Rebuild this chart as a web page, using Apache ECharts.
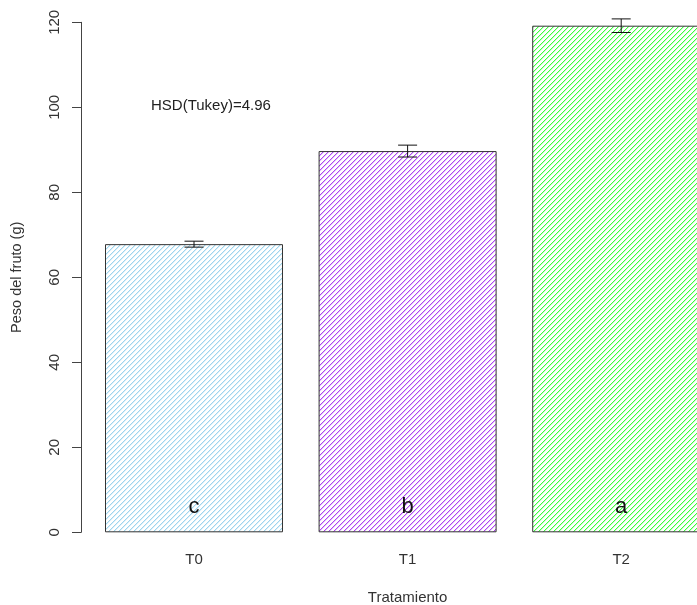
<!DOCTYPE html>
<html>
<head>
<meta charset="utf-8">
<script src="https://cdn.jsdelivr.net/npm/echarts@6/dist/echarts.min.js"></script>
<style>
  html, body { margin: 0; padding: 0; background: #fff; }
  #chart { width: 697px; height: 605px; }
</style>
</head>
<body>
<div id="chart"></div>
<script>
// Fruit weight per treatment (mean ± error) with Tukey grouping letters
const categories = ['T0', 'T1', 'T2'];
const means = [67.8, 89.7, 119.2];
const errors = [0.7, 1.4, 1.6];
const groupLetters = ['c', 'b', 'a'];
const hatchColors = ['#9dd5ee', '#ad47f2', '#3cff3c'];
const hatchSoft = ['#dbeff9', '#e2c0fa', '#c6ffc6'];
const yTicks = [0, 20, 40, 60, 80, 100, 120];
const hsdText = 'HSD(Tukey)=4.96';

// pixel-stepped diagonal hatch tile, repeated across each bar
function hatch(color, soft) {
  const s = 5;
  const c = document.createElement('canvas');
  c.width = s; c.height = s;
  const g = c.getContext('2d');
  g.fillStyle = '#ffffff';
  g.fillRect(0, 0, s, s);
  for (let i = 0; i < s; i++) {
    g.fillStyle = soft;
    g.fillRect(i, (s - i) % s, 1, 1);
    g.fillStyle = color;
    g.fillRect(i, s - 1 - i, 1, 1);
  }
  return { image: c, repeat: 'repeat' };
}

const chart = echarts.init(document.getElementById('chart'), null, { renderer: 'canvas' });
const font = '"Liberation Sans", Arial, sans-serif';

chart.setOption({
  animation: false,
  backgroundColor: '#fff',
  textStyle: { fontFamily: font },
  grid: {
    left: 87.2, top: 22.3, width: 640.8, height: 510,
    containLabel: false,
    outerBoundsMode: 'none'
  },
  xAxis: {
    type: 'category',
    data: categories,
    axisLine: { show: false },
    axisTick: { show: false },
    axisLabel: { color: '#333', fontSize: 15, margin: 20, fontFamily: font },
    name: 'Tratamiento',
    nameLocation: 'middle',
    nameGap: 58,
    nameTextStyle: { color: '#333', fontSize: 15, fontFamily: font }
  },
  yAxis: {
    type: 'value',
    min: yTicks[0],
    max: yTicks[yTicks.length - 1],
    interval: 20,
    offset: 6.2,
    splitLine: { show: false },
    axisLine: { show: true, lineStyle: { color: '#444', width: 1 } },
    axisTick: { show: true, length: 9, lineStyle: { color: '#444' } },
    axisLabel: { color: '#333', fontSize: 15, rotate: 90, margin: 19, fontFamily: font },
    name: 'Peso del fruto (g)',
    nameLocation: 'middle',
    nameGap: 57,
    nameTextStyle: { color: '#333', fontSize: 14.5, fontFamily: font }
  },
  series: [
    {
      type: 'bar',
      barCategoryGap: '16.67%',
      data: means.map((v, i) => ({
        value: v,
        itemStyle: { color: hatch(hatchColors[i], hatchSoft[i]) },
        label: { formatter: groupLetters[i] }
      })),
      itemStyle: { borderColor: '#333', borderWidth: 1 },
      label: {
        show: true,
        position: 'insideBottom',
        distance: 14,
        color: '#111',
        fontSize: 22,
        fontFamily: font
      }
    },
    {
      type: 'custom',
      data: means.map((v, i) => [i, v - errors[i], v + errors[i]]),
      renderItem: function (params, api) {
        const lo = api.coord([api.value(0), api.value(1)]);
        const hi = api.coord([api.value(0), api.value(2)]);
        const half = 9.5;
        const st = { stroke: '#111', lineWidth: 1 };
        return {
          type: 'group',
          children: [
            { type: 'line', shape: { x1: hi[0], y1: hi[1], x2: lo[0], y2: lo[1] }, style: st },
            { type: 'line', shape: { x1: hi[0] - half, y1: hi[1], x2: hi[0] + half, y2: hi[1] }, style: st },
            { type: 'line', shape: { x1: lo[0] - half, y1: lo[1], x2: lo[0] + half, y2: lo[1] }, style: st }
          ]
        };
      },
      z: 5
    }
  ],
  graphic: [
    {
      type: 'text',
      left: 151,
      top: 98,
      style: { text: hsdText, fill: '#222', fontSize: 15, fontFamily: font }
    }
  ]
});
</script>
</body>
</html>
